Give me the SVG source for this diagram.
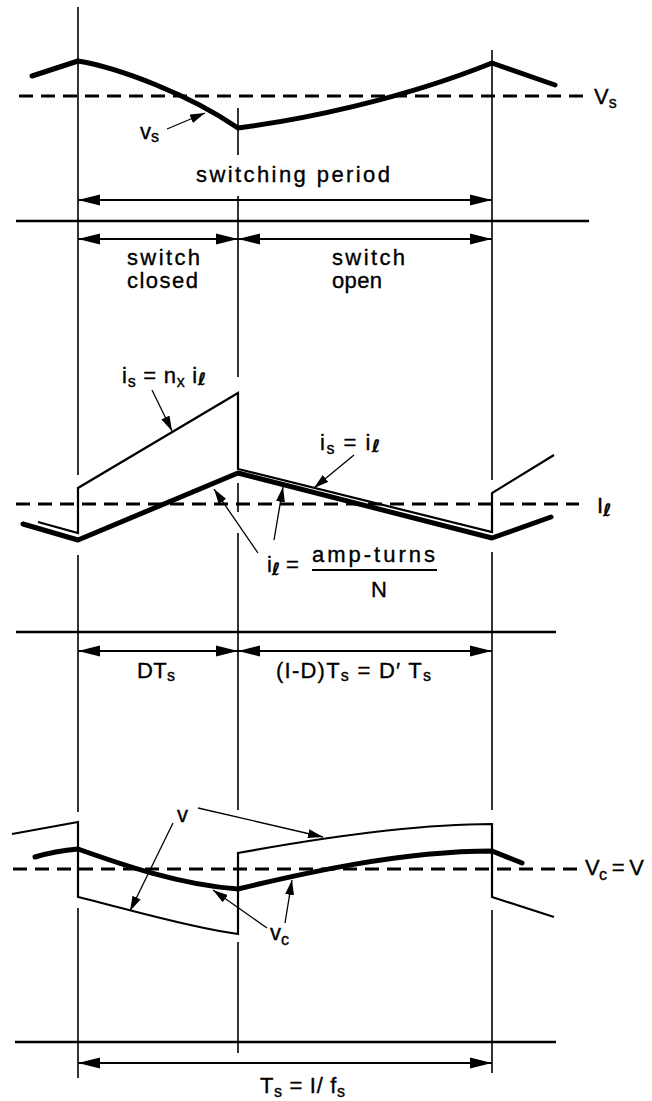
<svg xmlns="http://www.w3.org/2000/svg" width="652" height="1101" viewBox="0 0 652 1101">
<style>
.grid{stroke:#000;stroke-width:1.6;fill:none}
.sep{stroke:#000;stroke-width:2.6;fill:none}
.thick{stroke:#000;stroke-width:5;fill:none;stroke-linejoin:round;stroke-linecap:round}
.thin{stroke:#000;stroke-width:2.2;fill:none;stroke-linejoin:miter}
.dash{stroke:#000;stroke-width:3;stroke-dasharray:14 8;fill:none}
.dim{stroke:#000;stroke-width:2;fill:none;marker-start:url(#dimA);marker-end:url(#dimA)}
.lbl{stroke:#000;stroke-width:1.3;fill:none;marker-end:url(#lblA)}
text{font-family:"Liberation Sans",Arial,sans-serif;font-size:22px;fill:#000;stroke:#000;stroke-width:0.35}
.sub{font-size:16px}
.ell{font-family:"DejaVu Sans",sans-serif;font-style:italic;font-weight:bold;font-size:17px}
</style>
<defs>
<marker id="dimA" markerUnits="userSpaceOnUse" markerWidth="22" markerHeight="12" viewBox="0 0 22 12" refX="22" refY="6" orient="auto-start-reverse"><path d="M0,0.5 L22,6 L0,11.5 Z" fill="#000"/></marker>
<marker id="lblA" markerUnits="userSpaceOnUse" markerWidth="15" markerHeight="9" viewBox="0 0 15 9" refX="15" refY="4.5" orient="auto"><path d="M0,0 L15,4.5 L0,9 Z" fill="#000"/></marker>
</defs>

<g id="grid-lines">
<path class="grid" d="M78,7 V475 M78,555 V812 M78,908 V1078"/>
<path class="grid" d="M238,108 V155 M238,196 V377 M238,483 V512 M238,533 V810 M238,942 V1053"/>
<path class="grid" d="M492,50 V480 M492,552 V810 M492,910 V1073"/>
<path class="sep" d="M16,221 H589 M16,632 H556 M15,1042 H556"/>
</g>

<g id="vs-waveform">
<path class="dash" d="M19,96 H589"/>
<path class="thick" d="M32,76 L78,61 C120,68 190,95 238,128 C300,120 400,100 492,63 L555,85"/>
<text x="594" y="104">V<tspan class="sub" dy="4">s</tspan></text>
<text x="140" y="139">v<tspan class="sub" dy="3">s</tspan></text>
</g>

<g id="period-labels">
<text x="196" y="182" textLength="194" lengthAdjust="spacing">switching period</text>
<text x="127" y="265" textLength="73" lengthAdjust="spacing">switch</text>
<text x="127" y="288" textLength="71" lengthAdjust="spacing">closed</text>
<text x="332" y="265" textLength="73" lengthAdjust="spacing">switch</text>
<text x="332" y="288" textLength="50" lengthAdjust="spacing">open</text>
</g>

<g id="is-waveform">
<path class="dash" d="M16,504 H579"/>
<path class="thin" d="M38,522 L78,533 L78,488 L238,393 L238,469 L492,532 L492,493 L554,455"/>
<path class="thick" d="M23,524 L78,540 L238,473 L492,538 L551,517"/>
<text x="597" y="513" font-family="Liberation Serif, serif">I<tspan class="ell" dy="3">ℓ</tspan></text>
<text x="122" y="383" textLength="84">i<tspan class="sub" dy="4">s</tspan><tspan dy="-4"> = n</tspan><tspan class="sub" dy="4">x</tspan><tspan dy="-4"> i</tspan><tspan class="ell" dy="2">ℓ</tspan></text>
<text x="320" y="450" textLength="60">i<tspan class="sub" dy="4">s</tspan><tspan dy="-4"> = i</tspan><tspan class="ell" dy="2">ℓ</tspan></text>
<text x="267" y="572">i<tspan class="ell" dy="3">ℓ</tspan><tspan dy="-3"> =</tspan></text>
<text x="312" y="562" textLength="123" lengthAdjust="spacing">amp-turns</text>
<path d="M312,570 H437" stroke="#000" stroke-width="1.8"/>
<text x="379" y="597" text-anchor="middle">N</text>
</g>

<g id="duty-labels">
<text x="137" y="678" textLength="38">DT<tspan class="sub" dy="3">s</tspan></text>
<text x="276" y="678" textLength="155">(I-D)T<tspan class="sub" dy="3">s</tspan><tspan dy="-3"> = D′ T</tspan><tspan class="sub" dy="3">s</tspan></text>
</g>

<g id="v-waveform">
<path class="dash" d="M13,869 H579"/>
<path class="thin" d="M12,834 L78,822 L78,897 C120,907 190,928 238,934 L238,853 C320,838 420,824 492,824 L492,897 L554,917"/>
<path class="thick" d="M35,857 Q55,851 78,849 C120,864 180,885 238,889 C300,874 400,851 492,851 L522,863"/>
<text x="585" y="875" textLength="59">V<tspan class="sub" dy="5">c</tspan><tspan dy="-5"> = V</tspan></text>
<text x="177" y="822">v</text>
<text x="270" y="940">v<tspan class="sub" dy="5">c</tspan></text>
<text x="260" y="1093" textLength="85">T<tspan class="sub" dy="4">s</tspan><tspan dy="-4"> = I/ f</tspan><tspan class="sub" dy="4">s</tspan></text>
</g>

<g id="connectors">
<path class="dim" d="M78,200 H492"/>
<path class="dim" d="M78,239 H238"/>
<path class="dim" d="M238,239 H492"/>
<path class="dim" d="M78,651 H238"/>
<path class="dim" d="M238,651 H492"/>
<path class="dim" d="M78,1063 H492"/>
<path class="lbl" d="M167,129 L205,113"/>
<path class="lbl" d="M152,390 L172,431"/>
<path class="lbl" d="M354,455 L314,488"/>
<path class="lbl" d="M258,553 L214,489"/>
<path class="lbl" d="M274,540 L283,487"/>
<path class="lbl" d="M198,808 L323,837"/>
<path class="lbl" d="M173,823 L130,911"/>
<path class="lbl" d="M267,928 L213,890"/>
<path class="lbl" d="M285,923 L292,880"/>
</g>
</svg>
